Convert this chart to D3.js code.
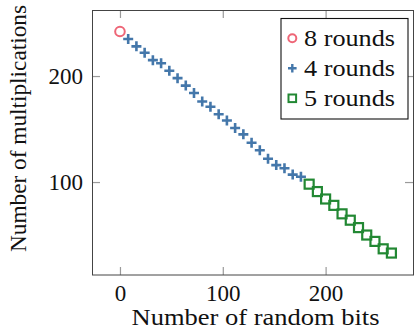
<!DOCTYPE html>
<html>
<head>
<meta charset="utf-8">
<script src="https://cdn.jsdelivr.net/npm/d3@7"></script>
<style>
  html, body { margin: 0; padding: 0; background: #fff; }
  svg { display: block; }
  svg text { font-family: "Liberation Serif", "DejaVu Serif", serif !important; fill: #111; }
</style>
</head>
<body>
<div id="chart"></div>
<script>
// data
const bits8 = [0];
const mults8 = [242];

const bits4 = [8, 16, 24, 32, 40, 48, 56, 64, 72, 80, 88, 96, 104, 112, 120, 128, 136, 144, 152, 160, 168, 176];
const mults4 = [235, 228, 222, 215, 212, 205, 198, 191, 184, 176, 171, 164, 158, 151, 145, 137, 130, 122, 116, 113, 107, 105];

const bits5 = [184, 192, 200, 208, 216, 224, 232, 240, 248, 256, 264];
const mults5 = [98, 91, 84, 78, 70, 64, 57, 50, 44, 37, 33];

const xTicks = [0, 100, 200];
const yTicks = [100, 200];
const seriesNames = ['8 rounds', '4 rounds', '5 rounds'];

const W = 414, H = 336;
const plot = {left: 92, right: 413, top: 10, bottom: 275};
const serif = 'Liberation Serif, DejaVu Serif, serif';

const svg = d3.select('#chart').append('svg')
  .attr('width', W)
  .attr('height', H)
  .attr('font-family', serif);

const x = d3.scaleLinear().domain([-27.2, 285]).range([plot.left, plot.right]);
const y = d3.scaleLinear().domain([12.3, 262.3]).range([plot.bottom, plot.top]);

const tickColor = '#9a9a9a';

// bottom + top axes (ticks point inwards)
const gx = svg.append('g')
  .attr('transform', 'translate(0,' + plot.bottom + ')')
  .call(d3.axisBottom(x).tickValues(xTicks).tickSize(-8).tickPadding(0).tickFormat(d3.format('d')));
gx.attr('font-family', serif);
gx.select('.domain').remove();
gx.selectAll('.tick line').attr('stroke', tickColor).attr('stroke-width', 1.2);
gx.selectAll('.tick text')
  .attr('y', 26).attr('dy', null)
  .attr('font-size', 23).attr('fill', '#111');

const gxTop = svg.append('g')
  .attr('transform', 'translate(0,' + plot.top + ')')
  .call(d3.axisTop(x).tickValues(xTicks).tickSize(-8).tickFormat(''));
gxTop.select('.domain').remove();
gxTop.selectAll('.tick line').attr('stroke', tickColor).attr('stroke-width', 1.2);

// left + right axes
const gy = svg.append('g')
  .attr('transform', 'translate(' + plot.left + ',0)')
  .call(d3.axisLeft(y).tickValues(yTicks).tickSize(-8).tickPadding(0).tickFormat(d3.format('d')));
gy.attr('font-family', serif);
gy.select('.domain').remove();
gy.selectAll('.tick line').attr('stroke', tickColor).attr('stroke-width', 1.2);
gy.selectAll('.tick text')
  .attr('x', -9).attr('dy', '0.33em')
  .attr('font-size', 23).attr('fill', '#111');

const gyRight = svg.append('g')
  .attr('transform', 'translate(' + plot.right + ',0)')
  .call(d3.axisRight(y).tickValues(yTicks).tickSize(-8).tickFormat(''));
gyRight.select('.domain').remove();
gyRight.selectAll('.tick line').attr('stroke', tickColor).attr('stroke-width', 1.2);

// frame
svg.append('rect')
  .attr('x', plot.left + 0.5).attr('y', plot.top + 0.5)
  .attr('width', plot.right - plot.left).attr('height', plot.bottom - plot.top - 0.5)
  .attr('fill', 'none').attr('stroke', '#444').attr('stroke-width', 1);

// axis labels
svg.append('text')
  .attr('x', 131.5).attr('y', 325)
  .attr('font-size', 24)
  .attr('textLength', 248).attr('lengthAdjust', 'spacingAndGlyphs')
  .text('Number of random bits');

svg.append('text')
  .attr('transform', 'translate(25.5,252) rotate(-90)')
  .attr('x', 0).attr('y', 0)
  .attr('font-size', 23)
  .attr('textLength', 247).attr('lengthAdjust', 'spacingAndGlyphs')
  .text('Number of multiplications');

// series
const red = '#EE6677', blue = '#4477AA', green = '#228833';

const g = svg.append('g');

// 8 rounds: circle
g.selectAll('.m8').data(d3.zip(bits8, mults8))
  .enter().append('circle')
  .attr('class', 'm8')
  .attr('cx', d => x(d[0])).attr('cy', d => y(d[1]))
  .attr('r', 4.8)
  .attr('fill', 'none').attr('stroke', red).attr('stroke-width', 2);

// 4 rounds: plus
const plusPath = s => 'M' + (-s) + ',0H' + s + 'M0,' + (-s) + 'V' + s;
g.selectAll('.m4').data(d3.zip(bits4, mults4))
  .enter().append('path')
  .attr('class', 'm4')
  .attr('transform', d => 'translate(' + x(d[0]) + ',' + y(d[1]) + ')')
  .attr('d', plusPath(5))
  .attr('fill', 'none').attr('stroke', blue).attr('stroke-width', 2.6);

// 5 rounds: square
const sq = 9;
g.selectAll('.m5').data(d3.zip(bits5, mults5))
  .enter().append('rect')
  .attr('class', 'm5')
  .attr('x', d => x(d[0]) - sq / 2).attr('y', d => y(d[1]) - sq / 2)
  .attr('width', sq).attr('height', sq)
  .attr('fill', 'none').attr('stroke', green).attr('stroke-width', 2.2);

// legend
const lg = svg.append('g');
lg.append('rect')
  .attr('x', 281).attr('y', 18.5).attr('width', 127).attr('height', 100.5)
  .attr('fill', '#fff').attr('stroke', '#111').attr('stroke-width', 1.1);

const rowY = [38.3, 68.3, 98.3];
const mx = 292.3;
lg.append('circle')
  .attr('cx', mx).attr('cy', rowY[0]).attr('r', 4)
  .attr('fill', 'none').attr('stroke', red).attr('stroke-width', 2);
lg.append('path')
  .attr('transform', 'translate(' + mx + ',' + rowY[1] + ')')
  .attr('d', plusPath(4.3))
  .attr('fill', 'none').attr('stroke', blue).attr('stroke-width', 2.4);
lg.append('rect')
  .attr('x', mx - 3.8).attr('y', rowY[2] - 3.8).attr('width', 7.6).attr('height', 7.6)
  .attr('fill', 'none').attr('stroke', green).attr('stroke-width', 2);

lg.selectAll('.ltxt').data(seriesNames)
  .enter().append('text')
  .attr('class', 'ltxt')
  .attr('x', 304).attr('y', (d, i) => rowY[i] + 7.2)
  .attr('font-size', 23)
  .attr('textLength', 91).attr('lengthAdjust', 'spacingAndGlyphs')
  .text(d => d);
</script>
</body>
</html>
